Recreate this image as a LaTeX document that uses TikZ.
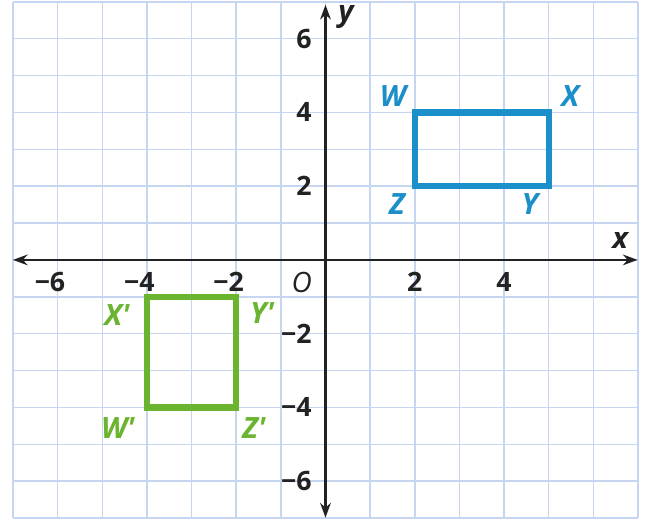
\documentclass[tikz,border=0pt]{standalone}
\usepackage{fontspec}
\setmainfont{Open Sans}
\usetikzlibrary{arrows.meta}
\definecolor{gridblue}{HTML}{C6D6F0}
\definecolor{shapeblue}{HTML}{1B8FC9}
\definecolor{shapegreen}{HTML}{6AB42F}
\definecolor{axisgray}{HTML}{222222}
\newcommand{\pr}{\textquotesingle}
\tikzset{
  gridline/.style={draw=gridblue, line width=1.1pt},
  axisline/.style={draw=axisgray, line width=1.6pt, {Stealth[length=11pt,width=8pt]}-{Stealth[length=11pt,width=8pt]}},
  numlab/.style={font=\fontsize{20}{22}\selectfont\bfseries, text=axisgray, inner sep=0pt},
  axlab/.style={font=\fontsize{22}{24}\selectfont\bfseries\itshape, text=axisgray, inner sep=0pt},
  bluelab/.style={font=\fontsize{22}{24}\selectfont\bfseries\itshape, text=shapeblue, inner sep=0pt},
  greenlab/.style={font=\fontsize{22}{24}\selectfont\bfseries\itshape, text=shapegreen, inner sep=0pt},
  bluerect/.style={draw=shapeblue, line width=4.8pt, line join=miter},
  greenrect/.style={draw=shapegreen, line width=4.8pt, line join=miter}
}
\begin{document}
\begin{tikzpicture}[x=33.48pt, y=27.645pt]
\useasboundingbox (-7.29,-7.19) rectangle (7.38,7.05);
\fill[white] (-7.29,-7.19) rectangle (7.38,7.05);
\foreach \i in {-7,...,7} {
  \draw[gridline] (\i,-7) -- (\i,7);
  \draw[gridline] (-7,\i) -- (7,\i);
}
% axes
\coordinate (xl) at (-7.0,0);
\coordinate (xr) at (6.99,0);
\coordinate (yb) at (0,-6.99);
\coordinate (yt) at (0,6.92);
\draw[axisline] (xl) -- (xr);
\draw[axisline] (yb) -- (yt);
% axis labels
\node[axlab] (xlab) at (6.6,0.54) {x};
\node[axlab] (ylab) at (0.46,6.6) {y};
\node[axlab, font=\fontsize{21}{24}\selectfont\itshape] (olab) at (-0.53,-0.6) {O};
% x numbers
\node[numlab] (xm6) at (-6,-0.6) {\llap{−}6};
\node[numlab] (xm4) at (-4,-0.6) {\llap{−}4};
\node[numlab] (xm2) at (-2,-0.6) {\llap{−}2};
\node[numlab] (xp2) at (2,-0.6) {2};
\node[numlab] (xp4) at (4,-0.6) {4};
% y numbers
\node[numlab] (yp6) at (-0.48,6) {6};
\node[numlab] (yp4) at (-0.48,4) {4};
\node[numlab] (yp2) at (-0.48,2) {2};
\node[numlab] (ym2) at (-0.48,-2) {\llap{−}2};
\node[numlab] (ym4) at (-0.48,-4) {\llap{−}4};
\node[numlab] (ym6) at (-0.48,-6) {\llap{−}6};
% blue rectangle
\coordinate (W) at (2,4);
\coordinate (X) at (5,4);
\coordinate (Y) at (5,2);
\coordinate (Z) at (2,2);
\draw[bluerect] (W) -- (X) -- (Y) -- (Z) -- cycle;
\node[bluelab] (Wl) at (1.51,4.45) {W};
\node[bluelab] (Xl) at (5.48,4.45) {X};
\node[bluelab] (Zl) at (1.60,1.52) {Z};
\node[bluelab] (Yl) at (4.58,1.52) {Y};
% green rectangle
\coordinate (Xp) at (-4,-1);
\coordinate (Yp) at (-2,-1);
\coordinate (Zp) at (-2,-4);
\coordinate (Wp) at (-4,-4);
\draw[greenrect] (Xp) -- (Yp) -- (Zp) -- (Wp) -- cycle;
\node[greenlab] (Xpl) at (-4.67,-1.49) {X\pr};
\node[greenlab] (Ypl) at (-1.42,-1.44) {Y\pr};
\node[greenlab] (Wpl) at (-4.65,-4.56) {W\pr};
\node[greenlab] (Zpl) at (-1.60,-4.56) {Z\pr};
\end{tikzpicture}
\end{document}
